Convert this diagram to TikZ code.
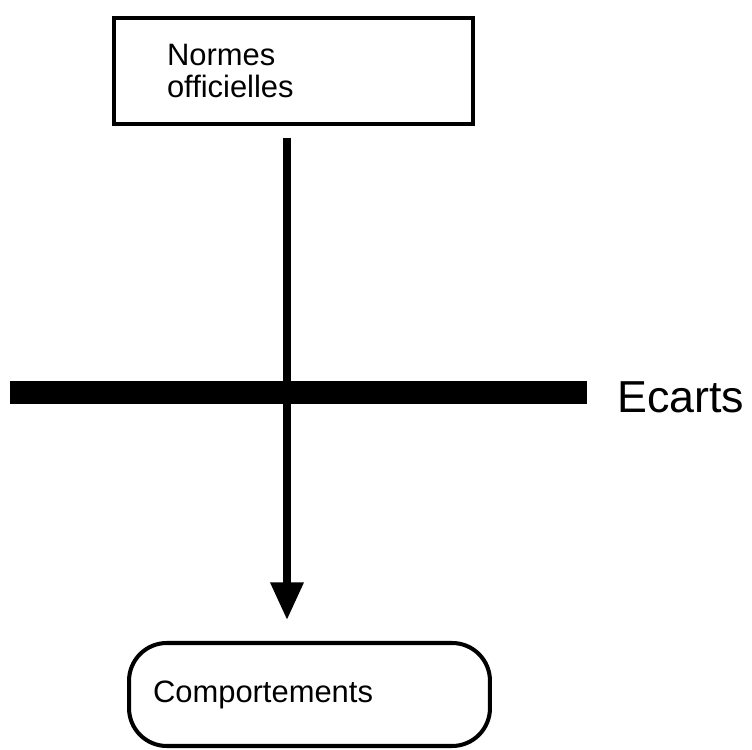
\documentclass[tikz,border=0pt]{standalone}
\usepackage{fontspec}
\setmainfont{Liberation Sans}
\usetikzlibrary{arrows.meta}

\begin{document}
\begin{tikzpicture}[x=0.02cm, y=-0.02cm,
		cadre/.style={draw, line width=2.3pt, inner xsep=0pt, align=left, font=\fontsize{17.6}{18.7}\selectfont},
		fleche/.style={line width=4.5pt, -{Triangle[length=21.5pt, width=18pt]}}]
		%%%%% START %%%%%
		\useasboundingbox (0, 0) rectangle (752, 750);
		
		\node[cadre, minimum width=7.18cm, minimum height=2.12cm, text width=5.06cm] (normes) at (293.5, 71) {Normes\\officielles};
		\node[cadre, rounded corners=21.5pt, minimum width=7.22cm, minimum height=2.06cm, text width=6.26cm] (comport) at (309.5, 694.5) {Comportements};
		
		\fill[black] (10, 381) rectangle (587, 404);
		\node[anchor=base west, inner sep=0pt, font=\fontsize{25.5}{30}\selectfont] (ecarts) at (617, 413) {Ecarts};
		
		\coordinate (axe) at (287, 0);
		\draw[fleche, shorten <=6.8pt, shorten >=11.9pt] (normes.south -| axe) -- (comport.north -| axe);
		
		%%%%% END %%%%%
	\end{tikzpicture}
\end{document}
